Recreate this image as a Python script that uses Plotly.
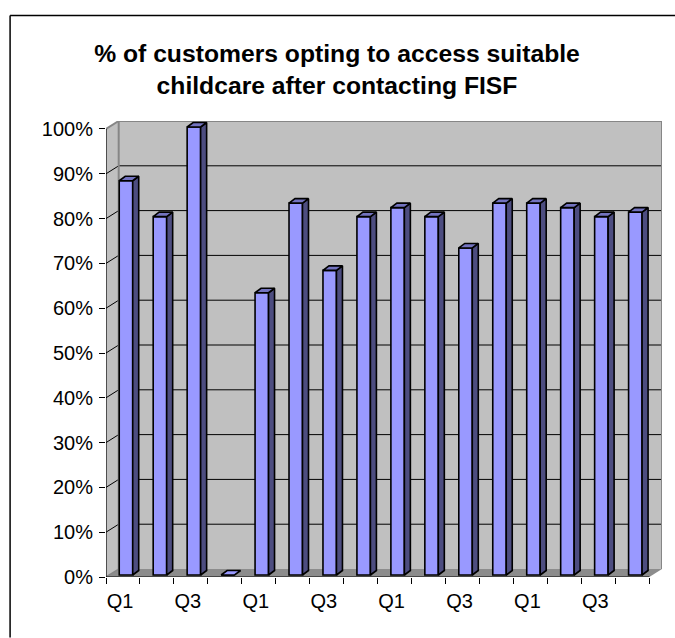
import plotly.graph_objects as go

quarters = ["Q1", "", "Q3", "", "Q1", "", "Q3", "", "Q1", "", "Q3", "", "Q1", "", "Q3", ""]
values = [88, 80, 100, 0, 63, 83, 68, 80, 82, 80, 73, 83, 83, 82, 80, 81]
title = "% of customers opting to access suitable<br>childcare after contacting FISF"
y_ticks = list(range(0, 101, 10))

# pixel geometry of the oblique projection
W, H = 675, 638
PX_L, PX_R, PX_T, PX_B = 105.5, 662.0, 121.0, 577.5   # plot box in page pixels
UX = (649.3 - PX_L) / 16                               # px per category
UY = (PX_B - 129.0) / 100                              # px per percent
X0 = -0.5
DX, DY = 12.7 / UX, 8.0 / UY                           # wall depth
BX, BY = 3.0 / UX, 2.0 / UY                            # bar set-back
SX, SY = 6.0 / UX, 4.5 / UY                            # bar depth
BW = 13.5 / UX
N = len(values)
XF = X0 + N

BLUE, SIDE, TOP = "#9999FF", "#4D4D80", "#7373BF"
WALL, FLOOR, EDGE = "#C0C0C0", "#8C8C8C", "#868686"
LW = 1.6

fig = go.Figure()
idx = list(range(N))
fig.add_bar(x=[i + BX for i in idx], y=values, base=BY, width=BW,
            marker=dict(color=BLUE, line=dict(color="black", width=LW)),
            showlegend=False, hoverinfo="skip")

for i, v in zip(idx, values):
    l, r = i + BX - BW / 2, i + BX + BW / 2
    b, t = BY, BY + v
    if v > 0:
        fig.add_scatter(x=[r, r + SX, r + SX, r, r], y=[b, b + SY, t + SY, t, b], mode="lines",
                        fill="toself", fillcolor=SIDE, line=dict(color="black", width=LW),
                        showlegend=False, hoverinfo="skip")
    fig.add_scatter(x=[l, r, r + SX, l + SX, l], y=[t, t, t + SY, t + SY, t], mode="lines",
                    fill="toself", fillcolor=BLUE if v == 0 else TOP, line=dict(color="black", width=LW),
                    showlegend=False, hoverinfo="skip")

shapes = []
def poly(pts, fill, lw=0, col=EDGE, layer="below"):
    p = "M " + " L ".join(f"{a},{b}" for a, b in pts) + " Z"
    shapes.append(dict(type="path", xref="x", yref="y", path=p, fillcolor=fill,
                       line=dict(color=col, width=lw), layer=layer))
def seg(x0, y0, x1, y1, col="black", lw=1, layer="below"):
    shapes.append(dict(type="line", xref="x", yref="y", x0=x0, y0=y0, x1=x1, y1=y1,
                       line=dict(color=col, width=lw), layer=layer))

poly([(X0 + DX, DY), (XF + DX, DY), (XF + DX, 100 + DY), (X0 + DX, 100 + DY)], WALL)
poly([(X0, 0), (X0 + DX, DY), (X0 + DX, 100 + DY), (X0, 100)], WALL)
poly([(X0, 0), (XF, 0), (XF + DX, DY), (X0 + DX, DY)], FLOOR)
for v in y_ticks[1:-1]:
    seg(X0, v, X0 + DX, v + DY)
    seg(X0 + DX, v + DY, XF + DX, v + DY)
seg(X0, 0, X0 + DX, DY, EDGE, 1.5)
seg(X0, 100, X0 + DX, 100 + DY, EDGE, 2)
seg(X0 + DX, DY, X0 + DX, 100 + DY, EDGE, 2)
seg(X0 + DX, 100 + DY, XF + DX, 100 + DY, EDGE, 2)
seg(XF + DX, DY, XF + DX, 100 + DY, EDGE, 2)
seg(X0, 0, X0, 100, "black", 1.2, "above")
seg(X0, 0, XF, 0, "black", 1.2, "above")

# outer chart frame: only its top and left edges fall inside the picture
def fx(p): return (p - PX_L) / (PX_R - PX_L)
def fy(p): return (PX_B - p) / (PX_B - PX_T)
shapes.append(dict(type="line", xref="paper", yref="paper", x0=fx(9.5), x1=fx(W), y0=fy(15.5), y1=fy(15.5),
                   line=dict(color="black", width=1.5), layer="below"))
shapes.append(dict(type="line", xref="paper", yref="paper", x0=fx(9.5), x1=fx(9.5), y0=fy(15.5), y1=fy(H),
                   line=dict(color="black", width=1.5), layer="below"))

fig.update_layout(
    width=W, height=H, autosize=False,
    margin=dict(l=PX_L, r=W - PX_R, t=PX_T, b=H - PX_B, autoexpand=False),
    paper_bgcolor="white", plot_bgcolor="rgba(0,0,0,0)",
    font=dict(family="Liberation Sans, Arial, sans-serif", color="black", size=20),
    shapes=shapes,
    title=dict(text="<b>" + title + "</b>", x=337 / W, xanchor="center", y=1 - 62 / H, yanchor="middle",
               font=dict(size=24.7)),
    showlegend=False,
    xaxis=dict(range=[X0, XF + DX], tickmode="array", tickvals=idx, ticktext=quarters,
               ticks="", showgrid=False, zeroline=False, showline=False, ticklabelstandoff=10,
               ticklabelshift=-3,
               minor=dict(tickmode="array", tickvals=[i - 0.5 for i in range(N + 1)], ticks="outside",
                          ticklen=6, tickwidth=1.2, tickcolor="black", showgrid=False)),
    yaxis=dict(range=[0, 100 + DY], tickmode="array", tickvals=y_ticks, ticklabelstandoff=2,
               ticktext=[f"{v}%" for v in y_ticks], ticks="outside", ticklen=6, tickwidth=1.2,
               tickcolor="black", showgrid=False, zeroline=False, showline=False),
)
fig.write_html("out.html", config=dict(displayModeBar=False),
               post_script="document.body.style.margin='0';document.body.style.overflow='hidden';")
